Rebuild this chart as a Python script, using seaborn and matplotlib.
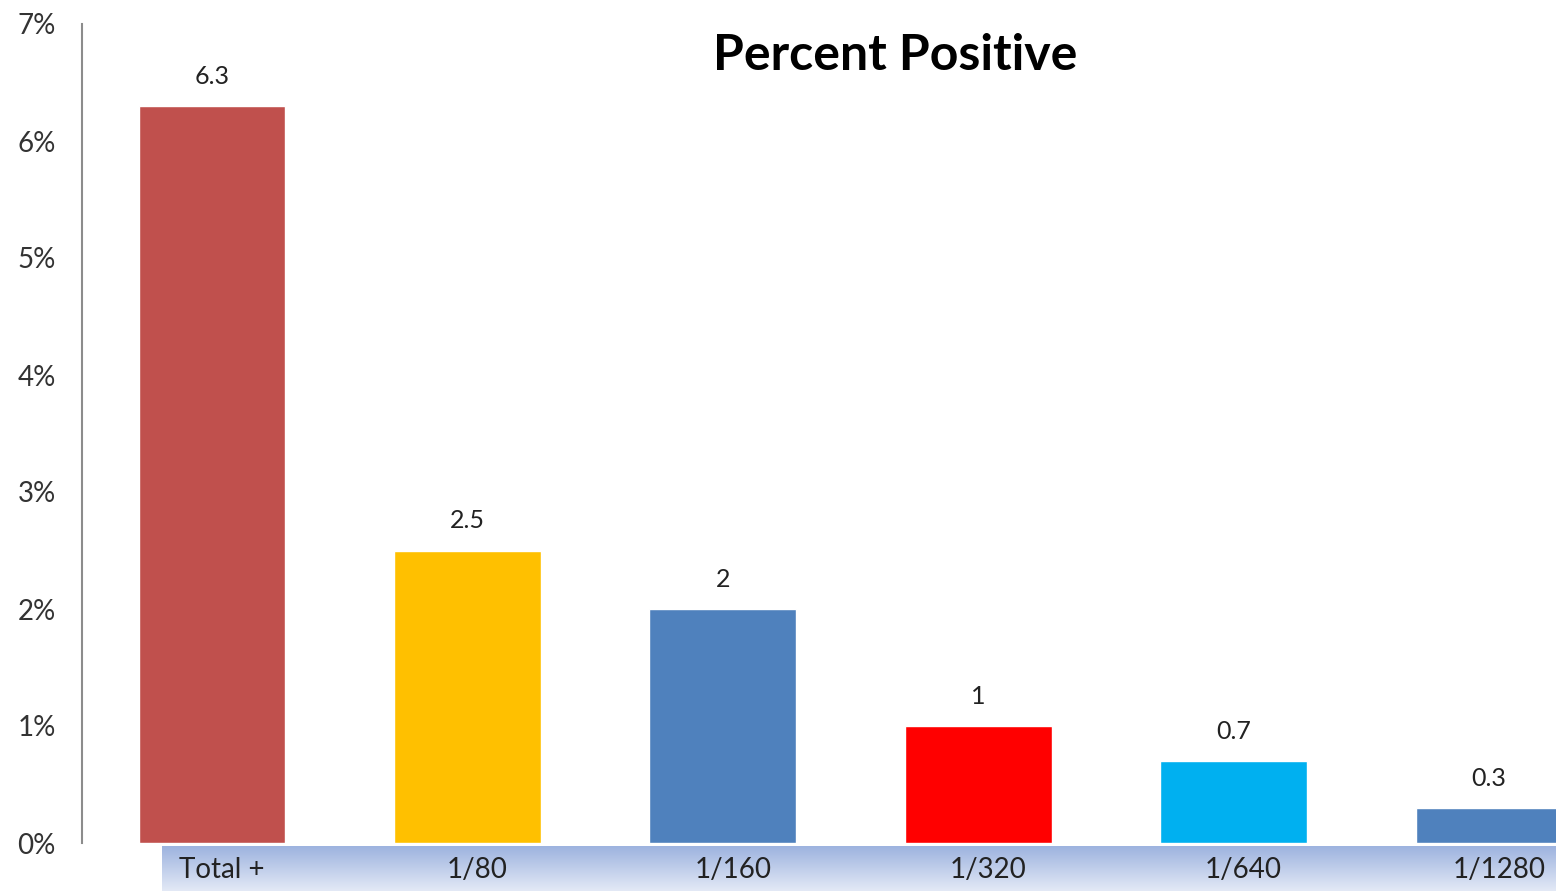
import numpy as np
import matplotlib
matplotlib.use("Agg")
import matplotlib.pyplot as plt
import matplotlib.transforms as mtransforms
from matplotlib.colors import LinearSegmentedColormap
import seaborn as sns

categories = ["Total +", "1/80", "1/160", "1/320", "1/640", "1/1280"]
values = [6.3, 2.5, 2, 1, 0.7, 0.3]
bar_colors = ["#C0504D", "#FFC000", "#4F81BD", "#FF0000", "#00B0F0", "#4F81BD"]
y_ticks = [0, 1, 2, 3, 4, 5, 6, 7]
title = "Percent Positive"

sns.set_theme(style="white")
plt.rcParams["font.family"] = ["Lato", "DejaVu Sans"]

W, H = 1556, 891
fig = plt.figure(figsize=(W / 100, H / 100), dpi=100)

# gradient band behind the category labels
band = fig.add_axes([162 / W, 0, 1 - 162 / W, 45 / H])
band.set_zorder(0)
cmap = LinearSegmentedColormap.from_list("band", ["#9DB3DF", "#E3E9F6"])
band.imshow(np.linspace(0, 1, 100).reshape(-1, 1), aspect="auto", cmap=cmap,
            extent=[0, 1, 0, 1], origin="upper")
band.axis("off")

ax = fig.add_axes([82 / W, 48 / H, 1 - 82 / W, (843 - 24) / H])
ax.set_zorder(1)
ax.patch.set_alpha(0)

sns.barplot(x=categories, y=values, hue=categories, palette=bar_colors,
            legend=False, width=0.575, saturation=1, ax=ax)

for cont in ax.containers:
    ax.bar_label(cont, fmt="%g", padding=13, fontsize=18, color="#222222")

ax.set_xlim(-0.509, 5.262)
ax.set_ylim(0, 7)
ax.set_yticks(y_ticks)
ax.set_yticklabels([f"{t}%" for t in y_ticks], fontsize=20, color="#333333")
ax.tick_params(axis="y", length=0, pad=19)
ax.tick_params(axis="x", length=0, pad=10, labelsize=20, labelcolor="#222222")
off = mtransforms.ScaledTranslation(0.1, 0, fig.dpi_scale_trans)
for lab in ax.get_xticklabels():
    lab.set_transform(lab.get_transform() + off)

for s in ["top", "right", "bottom"]:
    ax.spines[s].set_visible(False)
ax.spines["left"].set_color("#8C8C8C")
ax.spines["left"].set_linewidth(1.5)
ax.set_xlabel("")
ax.set_ylabel("")

fig.text(895 / W, 1 - 55 / H, title, ha="center", va="center",
         fontsize=36, fontweight="bold", color="black")

fig.savefig("out.png", dpi=100)
